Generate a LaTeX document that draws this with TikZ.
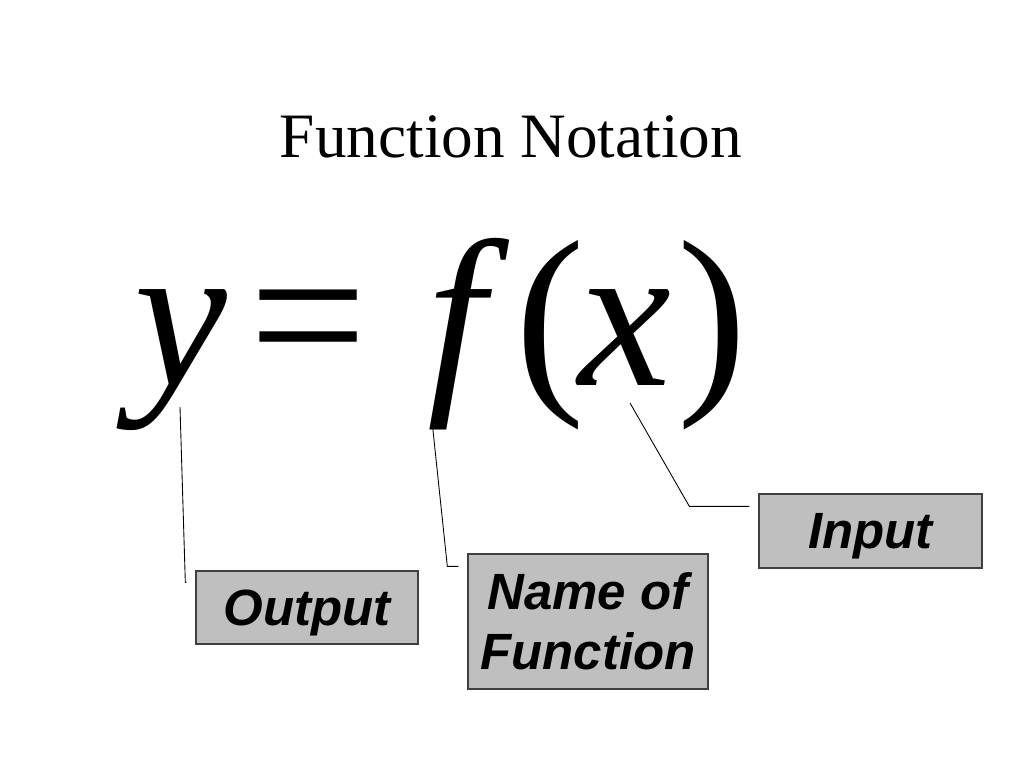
\documentclass[tikz,border=0pt]{standalone}
\usepackage{fontspec}
\setmainfont{Liberation Serif}
\setsansfont{Liberation Sans}
\usetikzlibrary{calc}
\begin{document}
\begin{tikzpicture}[x=0.02cm,y=-0.02cm]
		\tikzstyle{label box} = [draw=black!75, line width=0.8pt, fill=black!25, inner sep=0pt, align=center, font=\sffamily\bfseries\itshape\fontsize{29}{34}\selectfont]
		\tikzstyle{big sym} = [inner sep=0pt, anchor=base, font=\fontsize{119}{119}\selectfont]
		\tikzstyle{leader} = [draw=black, line width=0.5pt]
	    \useasboundingbox (0,0) rectangle (1024,768);
	    \node[anchor=base, font=\fontsize{36}{44}\selectfont] (title) at (511,157) {Function Notation};
	    \node[big sym] (y) at (181,385) {\itshape y};
	    \node[big sym] (eq) at (308,385) {=};
	    \node[big sym] (f) at (457,385) {\itshape f};
	    \node[big sym] (lp) at (550,385) {(};
	    \node[big sym] (x) at (625,385) {\itshape x};
	    \node[big sym] (rp) at (712,385) {)};
	    \node[label box, text depth=0pt, minimum width=4.44cm, minimum height=1.46cm] (out) at (307,607.5) {Output};
	    \node[label box, minimum width=4.8cm, minimum height=2.7cm] (name) at (588,621.5) {Name of\\Function};
	    \node[label box, text depth=0pt, minimum width=4.46cm, minimum height=1.48cm] (in) at (870.5,531) {Input};
	    \coordinate (ytip) at ($(y.base)+(-1,22)$);
	    \coordinate (ftip) at ($(f.base)+(-25,36)$);
	    \coordinate (xtip) at ($(x.base)+(5,18)$);
	    \path[leader] (ytip) -- ($(out.north west)+(-10,12)$) -- ($(out.north west)+(-9,12)$);
	    \path[leader] (ftip) -- ($(name.north west)+(-20,13)$) -- ($(name.north west)+(-9,13)$);
	    \path[leader] (xtip) -- ($(in.north west)+(-69,13)$) -- ($(in.north west)+(-9,13)$);
\end{tikzpicture}
\end{document}
